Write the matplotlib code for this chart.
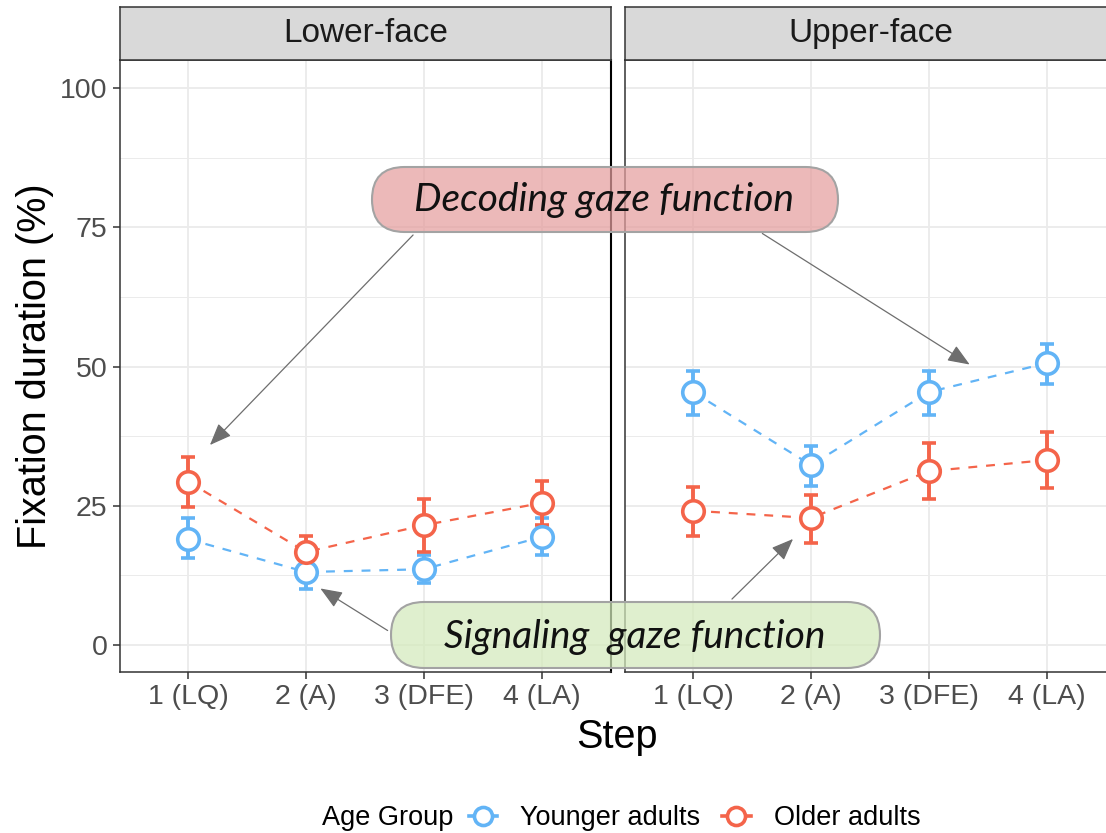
import matplotlib
matplotlib.use('Agg')
import matplotlib.pyplot as plt
from matplotlib.patches import FancyBboxPatch, FancyArrowPatch
from matplotlib.lines import Line2D
import numpy as np

plt.rcParams['font.family'] = ['Liberation Sans', 'DejaVu Sans']

steps = ['1 (LQ)', '2 (A)', '3 (DFE)', '4 (LA)']
panels = ['Lower-face', 'Upper-face']
groups = ['Younger adults', 'Older adults']

lower_young = [19.0, 13.1, 13.6, 19.4]
lower_young_lo = [15.6, 10.0, 11.1, 16.2]
lower_young_hi = [22.8, 16.2, 16.1, 22.8]
lower_old = [29.3, 16.7, 21.5, 25.5]
lower_old_lo = [24.8, 13.8, 16.7, 21.5]
lower_old_hi = [33.8, 19.6, 26.2, 29.4]

upper_young = [45.4, 32.3, 45.4, 50.6]
upper_young_lo = [41.3, 28.5, 41.3, 46.9]
upper_young_hi = [49.2, 35.7, 49.2, 54.0]
upper_old = [24.1, 22.8, 31.2, 33.2]
upper_old_lo = [19.6, 18.3, 26.2, 28.2]
upper_old_hi = [28.4, 26.9, 36.3, 38.2]

colors = {'Younger adults': '#62B4F6', 'Older adults': '#F4644A'}

W, H = 1106, 833
fig = plt.figure(figsize=(W / 100, H / 100), dpi=100)


def fx(x):
    return x / W


def fy(y):
    return 1 - y / H


panel_data = {
    'Lower-face': {'Younger adults': (lower_young, lower_young_lo, lower_young_hi),
                   'Older adults': (lower_old, lower_old_lo, lower_old_hi)},
    'Upper-face': {'Younger adults': (upper_young, upper_young_lo, upper_young_hi),
                   'Older adults': (upper_old, upper_old_lo, upper_old_hi)},
}

panel_left = [120, 625]
pw = 491
top, bottom = 60, 672
for i, name in enumerate(panels):
    ax = fig.add_axes([fx(panel_left[i]), fy(bottom), pw / W, (bottom - top) / H])
    x = np.arange(1, len(steps) + 1)
    for g in groups:
        y, lo, hi = [np.array(v) for v in panel_data[name][g]]
        c = colors[g]
        ax.plot(x, y, color=c, lw=1.6, ls=(0, (4, 4)), zorder=3)
        ax.errorbar(x, y, yerr=[y - lo, hi - y], fmt='o', color=c, ms=15.5,
                    mfc='white', mec=c, mew=2.6, elinewidth=2.8,
                    capsize=4.8, capthick=2.8, zorder=4)
    ax.set_xlim(0.42, 4.59)
    ax.set_ylim(-4.85, 105.03)
    ax.set_xticks(x)
    ax.set_xticklabels(steps)
    ax.set_yticks([0, 25, 50, 75, 100])
    ax.set_yticks([12.5, 37.5, 62.5, 87.5], minor=True)
    ax.tick_params(axis='both', which='major', length=5, width=1.1,
                   color='#333333', pad=4, labelsize=20.5, labelcolor='#4D4D4D')
    ax.tick_params(axis='y', which='minor', length=0)
    ax.grid(True, which='major', color='#EBEBEB', lw=1.3, zorder=0)
    ax.grid(True, which='minor', axis='y', color='#EBEBEB', lw=0.7, zorder=0)
    ax.set_axisbelow(True)
    for s in ax.spines.values():
        s.set_color('#333333')
        s.set_linewidth(1.1)
    if i == 1:
        ax.tick_params(axis='y', which='both', left=False, labelleft=False)
    else:
        ax.spines['right'].set_color('black')
        ax.spines['right'].set_linewidth(1.5)

    # facet strip
    sax = fig.add_axes([fx(panel_left[i]), fy(top), pw / W, 53 / H])
    sax.set_facecolor('#D9D9D9')
    sax.set_xticks([])
    sax.set_yticks([])
    for s in sax.spines.values():
        s.set_color('#333333')
        s.set_linewidth(1.1)
    sax.text(0.5, 0.5, name, ha='center', va='center', fontsize=24,
             color='#1A1A1A', transform=sax.transAxes)

fig.text(fx(35), fy(366), 'Fixation duration (%)', rotation=90, ha='center',
         va='center', fontsize=28.5, color='black')
fig.text(fx(617), fy(737), 'Step', ha='center', va='center', fontsize=28.5,
         color='black')

# arrows
arrows = [((415, 233), (208, 447)), ((760, 232), (972, 366)),
          ((390, 632), (318, 587)), ((730, 601), (795, 537))]
for (x0, y0), (x1, y1) in arrows:
    a = FancyArrowPatch((fx(x0), fy(y0)), (fx(x1), fy(y1)),
                        transform=fig.transFigure,
                        arrowstyle='-|>,head_length=0.75,head_width=0.3',
                        mutation_scale=18, color='#6E6E6E', lw=0.9, zorder=10)
    fig.add_artist(a)

# annotation boxes
boxes = [('Decoding gaze function', 372, 167, 466, 65, '#E59E9E', 604, 200),
         ('Signaling  gaze function', 391, 602, 489, 66, '#D3EABB', 635, 637)]
for label, bx, by, bw, bh, fc, tx, ty in boxes:
    style = 'round,pad=0,rounding_size=%.3f' % (bh / 200)
    p = FancyBboxPatch((bx / 100, (H - by - bh) / 100), bw / 100, bh / 100,
                       boxstyle=style, transform=fig.dpi_scale_trans,
                       facecolor=fc, alpha=0.72, edgecolor='none', zorder=11)
    fig.add_artist(p)
    e = FancyBboxPatch((bx / 100, (H - by - bh) / 100), bw / 100, bh / 100,
                       boxstyle=style, transform=fig.dpi_scale_trans,
                       facecolor='none', edgecolor='#A3A3A3', lw=1.5, zorder=12)
    fig.add_artist(e)
    fig.text(fx(tx), fy(ty), label, ha='center', va='center', fontsize=28,
             style='italic', family=['Lato', 'DejaVu Sans'], color='#111111',
             zorder=13)

# legend
fig.text(fx(322), fy(818), 'Age Group', ha='left', va='center', fontsize=19.5,
         color='black')
handles = [Line2D([], [], color=colors[g], lw=2.6, marker='o', ms=13,
                  mfc='white', mec=colors[g], mew=2.6) for g in groups]
fig.legend(handles, groups, loc='center left', bbox_to_anchor=(fx(469), fy(818)),
           ncol=2, frameon=False, fontsize=19.5, handlelength=1.05,
           handletextpad=0.85, columnspacing=0.8, borderaxespad=0, borderpad=0)

plt.savefig('out.png', dpi=100)
